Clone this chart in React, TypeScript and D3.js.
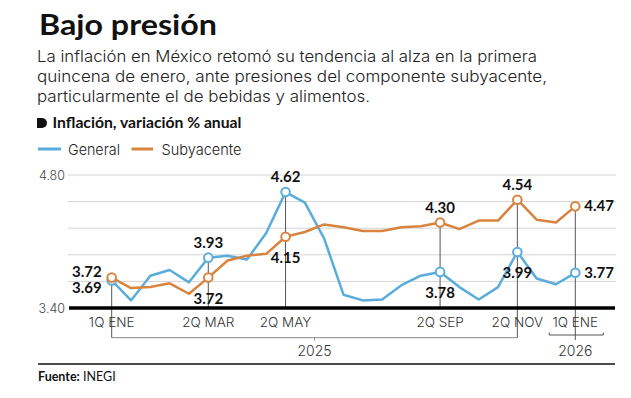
import React from 'react';
import * as d3 from 'd3';

// quincenas, 1Q ENE 2025 .. 1Q ENE 2026
const periods = [
  '1Q ENE 25', '2Q ENE 25', '1Q FEB 25', '2Q FEB 25', '1Q MAR 25', '2Q MAR 25',
  '1Q ABR 25', '2Q ABR 25', '1Q MAY 25', '2Q MAY 25', '1Q JUN 25', '2Q JUN 25',
  '1Q JUL 25', '2Q JUL 25', '1Q AGO 25', '2Q AGO 25', '1Q SEP 25', '2Q SEP 25',
  '1Q OCT 25', '2Q OCT 25', '1Q NOV 25', '2Q NOV 25', '1Q DIC 25', '2Q DIC 25',
  '1Q ENE 26',
];
const general = [3.69, 3.48, 3.74, 3.80, 3.67, 3.93, 3.95, 3.91, 4.19, 4.62, 4.51, 4.13, 3.54,
  3.48, 3.49, 3.64, 3.74, 3.78, 3.62, 3.49, 3.62, 3.99, 3.71, 3.65, 3.77];
const subyacente = [3.72, 3.61, 3.62, 3.66, 3.55, 3.72, 3.90, 3.95, 3.97, 4.15, 4.20, 4.28, 4.25,
  4.21, 4.21, 4.25, 4.26, 4.30, 4.23, 4.32, 4.32, 4.54, 4.33, 4.30, 4.47];

const xTickPeriods = ['1Q ENE 25', '2Q MAR 25', '2Q MAY 25', '2Q SEP 25', '2Q NOV 25', '1Q ENE 26'];
const xTickLabels = ['1Q ENE', '2Q MAR', '2Q MAY', '2Q SEP', '2Q NOV', '1Q ENE'];
const yTicks = [3.40, 3.68, 3.96, 4.24, 4.52, 4.80];
const yTickLabels = ['3.40', '', '', '', '', '4.80'];

// where the value labels go at each highlighted point: [general, subyacente]
const labelPlacement: Record<string, [string, string]> = {
  '1Q ENE 25': ['leftBelow', 'leftAbove'],
  '2Q MAR 25': ['above', 'below'],
  '2Q MAY 25': ['above', 'below'],
  '2Q SEP 25': ['below', 'above'],
  '2Q NOV 25': ['below', 'above'],
  '1Q ENE 26': ['right', 'right'],
};

const subtitleLines = [
  'La inflación en México retomó su tendencia al alza en la primera',
  'quincena de enero, ante presiones del componente subyacente,',
  'particularmente el de bebidas y alimentos.',
];
const subtitleWidths = [500, 510, 333];

const BLUE = '#5AADDB';
const ORANGE = '#D8843F';
const LIGHT = 'Inter, "Open Sans", sans-serif';
const BOLD = 'Lato, "Open Sans", sans-serif';

export default function App() {
  const x = d3.scalePoint<string>().domain(periods).range([111.7, 575.3]);
  const y = d3.scaleLinear().domain([3.40, 4.80]).range([308, 175]);

  const line = d3.line<number>()
    .x((_, i) => x(periods[i]) as number)
    .y(d => y(d));

  const gridLeft = 68;
  const gridRight = 616;
  const bracketY = 337.7;

  const labelPos = (mode: string, px: number, py: number) => {
    switch (mode) {
      case 'above': return { x: px, y: py - 10, anchor: 'middle' };
      case 'below': return { x: px, y: py + 26, anchor: 'middle' };
      case 'leftAbove': return { x: px - 10, y: py - 1, anchor: 'end' };
      case 'leftBelow': return { x: px - 10, y: py + 13, anchor: 'end' };
      default: return { x: px + 9, y: py + 5, anchor: 'start' };
    }
  };

  const x2025a = x('1Q ENE 25') as number;
  const x2025b = x('2Q NOV 25') as number;
  const x2026 = x('1Q ENE 26') as number;

  return (
    <div style={{ position: 'fixed', left: 0, top: 0 }}>
      <svg width={631} height={398} style={{ display: 'block', background: '#fff' }}>
        <text x={39} y={35} fontFamily={BOLD} fontWeight={700} fontSize={29} fill="#111"
          textLength={178} lengthAdjust="spacingAndGlyphs">Bajo presión</text>
        {subtitleLines.map((t, i) => (
          <text key={i} x={37} y={61.7 + i * 20} fontFamily={LIGHT} fontWeight={300} fontSize={15.5}
            fill="#222" textLength={subtitleWidths[i]} lengthAdjust="spacingAndGlyphs">{t}</text>
        ))}

        <path d="M37,118 h5 a5,5 0 0 1 0,10 h-5 z" fill="#111" />
        <text x={52.5} y={128.3} fontFamily={BOLD} fontWeight={700} fontSize={15.5} fill="#111"
          textLength={189} lengthAdjust="spacingAndGlyphs">Inflación, variación % anual</text>

        <line x1={38} x2={61} y1={149} y2={149} stroke={BLUE} strokeWidth={3} />
        <text x={68} y={155} fontFamily={LIGHT} fontWeight={300} fontSize={15} fill="#222"
          textLength={52} lengthAdjust="spacingAndGlyphs">General</text>
        <line x1={131.5} x2={153} y1={149} y2={149} stroke={ORANGE} strokeWidth={3} />
        <text x={161.5} y={155} fontFamily={LIGHT} fontWeight={300} fontSize={15} fill="#222"
          textLength={80} lengthAdjust="spacingAndGlyphs">Subyacente</text>

        {/* grid */}
        {yTicks.slice(1).map(t => (
          <line key={t} x1={gridLeft} x2={gridRight} y1={y(t)} y2={y(t)} stroke="#d4d4d4" strokeWidth={1} />
        ))}
        {yTicks.map((t, i) => yTickLabels[i] && (
          <text key={'yl' + t} x={65} y={y(t) + 4.5} textAnchor="end" fontFamily={LIGHT} fontWeight={300}
            fontSize={12.5} fill="#444">{yTickLabels[i]}</text>
        ))}

        {/* drop lines */}
        {xTickPeriods.map(p => {
          const i = periods.indexOf(p);
          const px = x(p) as number;
          const top = Math.min(y(general[i]), y(subyacente[i]));
          const bottom = p === '1Q ENE 25' || p === '2Q NOV 25' ? bracketY : y(3.40);
          return <line key={'v' + p} x1={px} x2={px} y1={top} y2={bottom} stroke="#555" strokeWidth={1} />;
        })}

        {/* brackets */}
        <path d={`M${x2025a},${bracketY} H${x2025b}`} stroke="#888" fill="none" strokeWidth={1} />
        <line x1={(x2025a + x2025b) / 2} x2={(x2025a + x2025b) / 2} y1={bracketY} y2={bracketY + 3}
          stroke="#888" strokeWidth={1} />
        <path d={`M549.3,332.5 V335 H603.3 V332.5`} stroke="#555" fill="none" strokeWidth={1} />
        <line x1={x2026} x2={x2026} y1={y(3.40)} y2={340} stroke="#555" strokeWidth={1} />
        <text x={(x2025a + x2025b) / 2} y={355.5} textAnchor="middle" fontFamily={LIGHT} fontWeight={300}
          fontSize={14} fill="#333">2025</text>
        <text x={x2026} y={355.5} textAnchor="middle" fontFamily={LIGHT} fontWeight={300}
          fontSize={14} fill="#333">2026</text>

        {/* series */}
        <path d={line(general) || ''} fill="none" stroke={BLUE} strokeWidth={2.5} strokeLinejoin="round" />
        <path d={line(subyacente) || ''} fill="none" stroke={ORANGE} strokeWidth={2.5} strokeLinejoin="round" />

        {/* baseline */}
        <line x1={69} x2={615} y1={y(3.40)} y2={y(3.40)} stroke="#000" strokeWidth={3.5} />

        {xTickPeriods.map((p, k) => {
          const i = periods.indexOf(p);
          const px = x(p) as number;
          const [gm, sm] = labelPlacement[p];
          const g = labelPos(gm, px, y(general[i]));
          const s = labelPos(sm, px, y(subyacente[i]));
          return (
            <g key={'h' + p}>
              <circle cx={px} cy={y(general[i])} r={4.3} fill="#fff" stroke={BLUE} strokeWidth={2} />
              <circle cx={px} cy={y(subyacente[i])} r={4.3} fill="#fff" stroke={ORANGE} strokeWidth={2} />
              <text x={g.x} y={g.y} textAnchor={g.anchor} fontFamily={BOLD} fontWeight={700} fontSize={15}
                fill="#111">{general[i].toFixed(2)}</text>
              <text x={s.x} y={s.y} textAnchor={s.anchor} fontFamily={BOLD} fontWeight={700} fontSize={15}
                fill="#111">{subyacente[i].toFixed(2)}</text>
              <text x={px} y={326.7} textAnchor="middle" fontFamily={LIGHT} fontWeight={300} fontSize={13.5}
                fill="#333">{xTickLabels[k]}</text>
            </g>
          );
        })}

        {/* footer */}
        <line x1={38} x2={615} y1={364} y2={364} stroke="#111" strokeWidth={1.5} />
        <text x={38} y={380.7} fontFamily={BOLD} fontSize={12.5} fill="#111">
          <tspan fontWeight={700}>Fuente:</tspan>
          <tspan> INEGI</tspan>
        </text>
      </svg>
    </div>
  );
}
